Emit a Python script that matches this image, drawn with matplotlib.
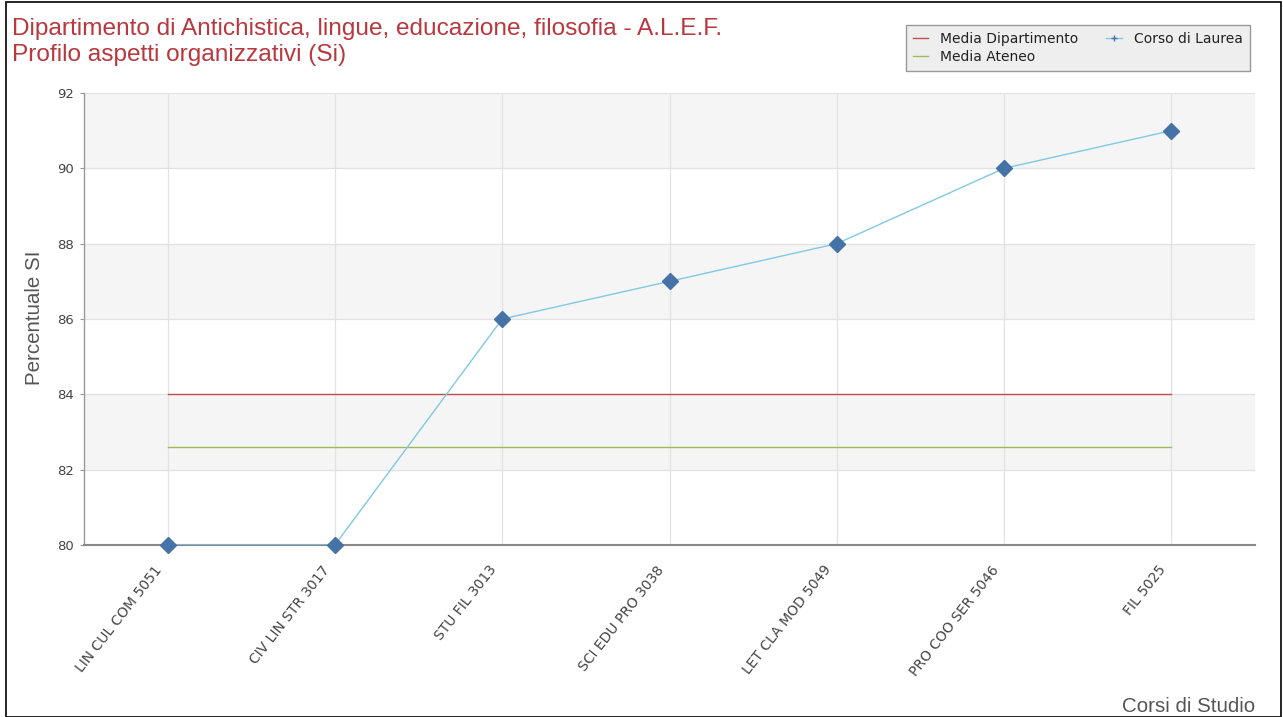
import matplotlib
matplotlib.use("Agg")
import matplotlib.pyplot as plt
import matplotlib.transforms as mtransforms
from matplotlib.lines import Line2D
from matplotlib.patches import Rectangle

categories = ["LIN CUL COM 5051", "CIV LIN STR 3017", "STU FIL 3013", "SCI EDU PRO 3038",
              "LET CLA MOD 5049", "PRO COO SER 5046", "FIL 5025"]
corso = [80, 80, 86, 87, 88, 90, 91]
media_dip = 84.0
media_ateneo = 82.6
yticks = [80, 82, 84, 86, 88, 90, 92]

W, H = 1283, 717
fig = plt.figure(figsize=(W / 100, H / 100), dpi=100)
fig.patch.set_facecolor("white")

# figure border
fig.add_artist(Rectangle((6 / W, 0), (W - 8) / W, (H - 2) / H, transform=fig.transFigure,
                         fill=False, edgecolor="black", linewidth=1.2))

L, R, T, B = 84, 1255, 93, 545
ax = fig.add_axes([L / W, 1 - B / H, (R - L) / W, (B - T) / H])
n = len(categories)
x = list(range(n))
ax.set_xlim(-0.5, n - 0.5)
ax.set_ylim(80, 92)

# alternating bands
for i in range(len(yticks) - 1):
    lo, hi = yticks[i], yticks[i + 1]
    col = "white" if i % 2 == 0 else "#f5f5f5"
    ax.axhspan(lo, hi, color=col, zorder=0, lw=0)

for yv in yticks:
    ax.axhline(yv, color="#e2e2e2", lw=0.9, zorder=1)
for xv in x:
    ax.axvline(xv, color="#e2e2e2", lw=0.9, zorder=1)

ax.plot([x[0], x[-1]], [media_dip, media_dip], color="#c0504d", lw=1.0, zorder=3)
ax.plot([x[0], x[-1]], [media_ateneo, media_ateneo], color="#9bbb59", lw=1.0, zorder=3)
ax.plot(x, corso, color="#80c8e6", lw=1.0, zorder=4)
ax.plot(x, corso, linestyle="none", marker="D", markersize=8, color="#4572a7",
        markeredgecolor="#4572a7", zorder=5, clip_on=False)

for s in ["top", "right"]:
    ax.spines[s].set_visible(False)
ax.spines["left"].set_color("#999999")
ax.spines["bottom"].set_color("#888888")
ax.spines["bottom"].set_linewidth(1.5)
ax.spines["left"].set_linewidth(1.0)

ax.set_yticks(yticks)
ax.set_yticklabels([str(v) for v in yticks], fontsize=9.5, color="#444444", family="DejaVu Sans")
ax.tick_params(axis="y", length=3, color="#999999", pad=4)
ax.set_xticks(x)
ax.set_xticklabels(categories, rotation=52, ha="right", va="center", rotation_mode="anchor",
                   fontsize=10, color="#444444", family="DejaVu Sans")
ax.tick_params(axis="x", length=0, pad=16)
offset = mtransforms.ScaledTranslation(-8 / 100, 0, fig.dpi_scale_trans)
for lbl in ax.get_xticklabels():
    lbl.set_transform(lbl.get_transform() + offset)

fig.text(34 / W, 1 - 318 / H, "Percentuale SI", rotation=90, ha="center", va="center",
         fontsize=14.8, color="#555555", family="Liberation Sans")
fig.text(1255 / W, 1 - 706 / H, "Corsi di Studio", ha="right", va="center",
         fontsize=14.8, color="#555555", family="Liberation Sans")

fig.text(12 / W, 1 - 29 / H, "Dipartimento di Antichistica, lingue, educazione, filosofia - A.L.E.F.",
         ha="left", va="center", fontsize=17.6, color="#b8383e", family="Liberation Sans")
fig.text(12 / W, 1 - 55 / H, "Profilo aspetti organizzativi (Si)",
         ha="left", va="center", fontsize=17.6, color="#b8383e", family="Liberation Sans")

# legend
handles = [Line2D([], [], color="#c0504d", lw=1.0),
           Line2D([], [], color="#9bbb59", lw=1.0),
           Line2D([], [], color="#80c8e6", lw=1.0, marker="+", markersize=5,
                  markeredgecolor="#4572a7")]
labels = ["Media Dipartimento", "Media Ateneo", "Corso di Laurea"]
leg = fig.legend(handles, labels, ncol=2, loc="upper right",
                 bbox_to_anchor=(1250 / W, 1 - 25 / H), borderaxespad=0,
                 frameon=True, fancybox=False,
                 prop={"family": "DejaVu Sans", "size": 10}, handlelength=1.1,
                 handletextpad=0.9, columnspacing=2.0, labelspacing=0.3,
                 borderpad=0.5, facecolor="#eeeeee", edgecolor="#999999", framealpha=1)
for t in leg.get_texts():
    t.set_color("#222222")

fig.savefig("out.png", dpi=100, facecolor="white")
